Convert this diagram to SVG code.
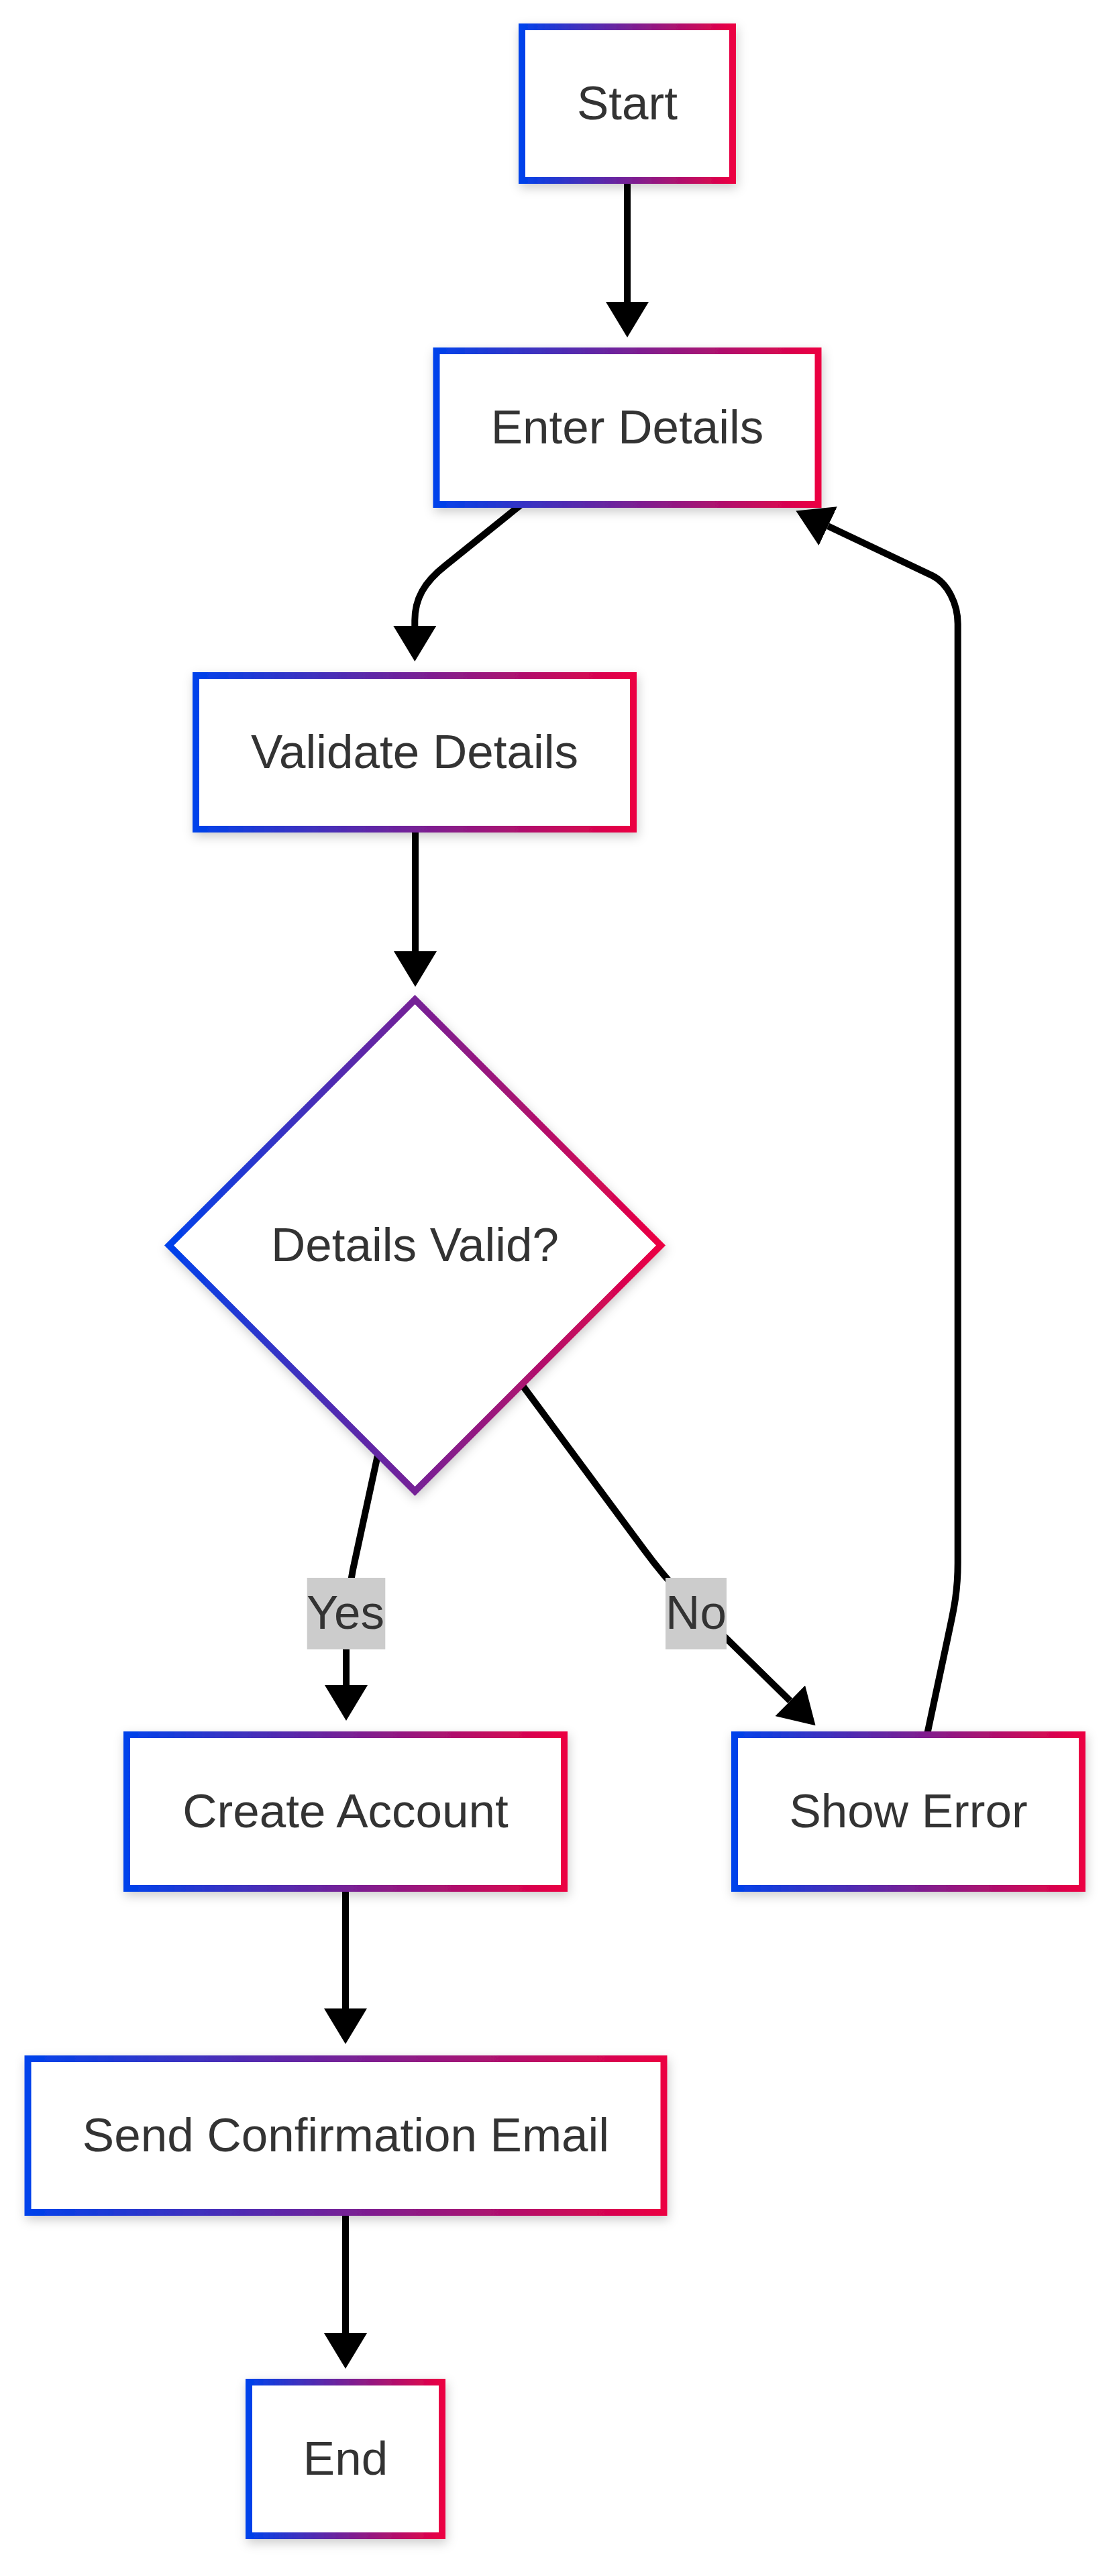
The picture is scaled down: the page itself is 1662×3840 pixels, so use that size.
<svg xmlns="http://www.w3.org/2000/svg" width="1662" height="3840" viewBox="0 0 1662 3840">
  <style>
    .node-shape { fill: #ffffff; stroke: url(#grad); stroke-width: 10; filter: url(#shadow); }
    .node-label { font-family: "Liberation Sans", Arial, sans-serif; font-size: 71px; fill: #333333; text-anchor: middle; }
    .edge { fill: none; stroke: #000000; stroke-width: 10; marker-end: url(#arrow); }
    .edge-label-bg { fill: #cccccc; }
    .edge-label { font-family: "Liberation Sans", Arial, sans-serif; font-size: 71px; fill: #333333; text-anchor: middle; }
  </style>
  <defs>
    <linearGradient id="grad" x1="0" y1="0" x2="1" y2="0">
      <stop offset="0" stop-color="#0042eb"/>
      <stop offset="1" stop-color="#eb0042"/>
    </linearGradient>
    <filter id="shadow" x="-20%" y="-20%" width="140%" height="140%">
      <feDropShadow dx="2" dy="6" stdDeviation="8" flood-color="#000000" flood-opacity="0.2"/>
    </filter>
    <marker id="arrow" markerUnits="userSpaceOnUse" viewBox="0 0 53 64" refX="0" refY="32" markerWidth="53" markerHeight="64" orient="auto">
      <path d="M0,0 L53,32 L0,64 z" fill="#000000"/>
    </marker>
  </defs>
  <rect width="1662" height="3840" fill="#ffffff"/>

  <g id="connectors">
    <path class="edge" d="M935,269 L935,450"/>
    <path class="edge" d="M777,752 L664,843 C632,868 618.3,893 618.3,925 L618.3,933"/>
    <path class="edge" d="M619,1236 L619,1418"/>
    <path class="edge" d="M565,2160 L526,2340 C520,2370 516,2400 516,2440 L516,2512"/>
    <path class="edge" d="M772,2056 L960,2310 Q1010,2378 1070,2430 L1177.7,2535.3"/>
    <path class="edge" d="M1381,2590 L1413,2440 C1419,2410 1427.7,2380 1427.7,2330 L1427.7,930 C1427.7,900 1412.4,869.4 1390,858.3 L1234.2,784.2"/>
    <path class="edge" d="M515,2815 L515,2994"/>
    <path class="edge" d="M515,3298 L515,3478"/>
  </g>

  <g id="edge-labels">
    <g id="label-yes">
      <rect class="edge-label-bg" x="457.7" y="2352" width="116.6" height="106.5"/>
      <text class="edge-label" x="515" y="2428">Yes</text>
    </g>
    <g id="label-no">
      <rect class="edge-label-bg" x="992" y="2352" width="91" height="106.5"/>
      <text class="edge-label" x="1037.5" y="2428">No</text>
    </g>
  </g>

  <g id="node-start">
    <rect class="node-shape" x="778" y="40" width="314" height="229"/>
    <text class="node-label" x="935" y="178">Start</text>
  </g>
  <g id="node-enter">
    <rect class="node-shape" x="650.5" y="523" width="569" height="229"/>
    <text class="node-label" x="935" y="661">Enter Details</text>
  </g>
  <g id="node-validate">
    <rect class="node-shape" x="292" y="1007" width="652" height="229"/>
    <text class="node-label" x="618" y="1145">Validate Details</text>
  </g>
  <g id="node-decision">
    <polygon class="node-shape" points="618.5,1490 985,1856.5 618.5,2223 252,1856.5"/>
    <text class="node-label" x="618.5" y="1880">Details Valid?</text>
  </g>
  <g id="node-create">
    <rect class="node-shape" x="189" y="2586" width="652" height="229"/>
    <text class="node-label" x="515" y="2724">Create Account</text>
  </g>
  <g id="node-error">
    <rect class="node-shape" x="1095" y="2586" width="518" height="229"/>
    <text class="node-label" x="1354" y="2724">Show Error</text>
  </g>
  <g id="node-send">
    <rect class="node-shape" x="41.5" y="3069" width="948" height="229"/>
    <text class="node-label" x="515.5" y="3207">Send Confirmation Email</text>
  </g>
  <g id="node-end">
    <rect class="node-shape" x="371" y="3551" width="288" height="229"/>
    <text class="node-label" x="515" y="3689">End</text>
  </g>
</svg>
